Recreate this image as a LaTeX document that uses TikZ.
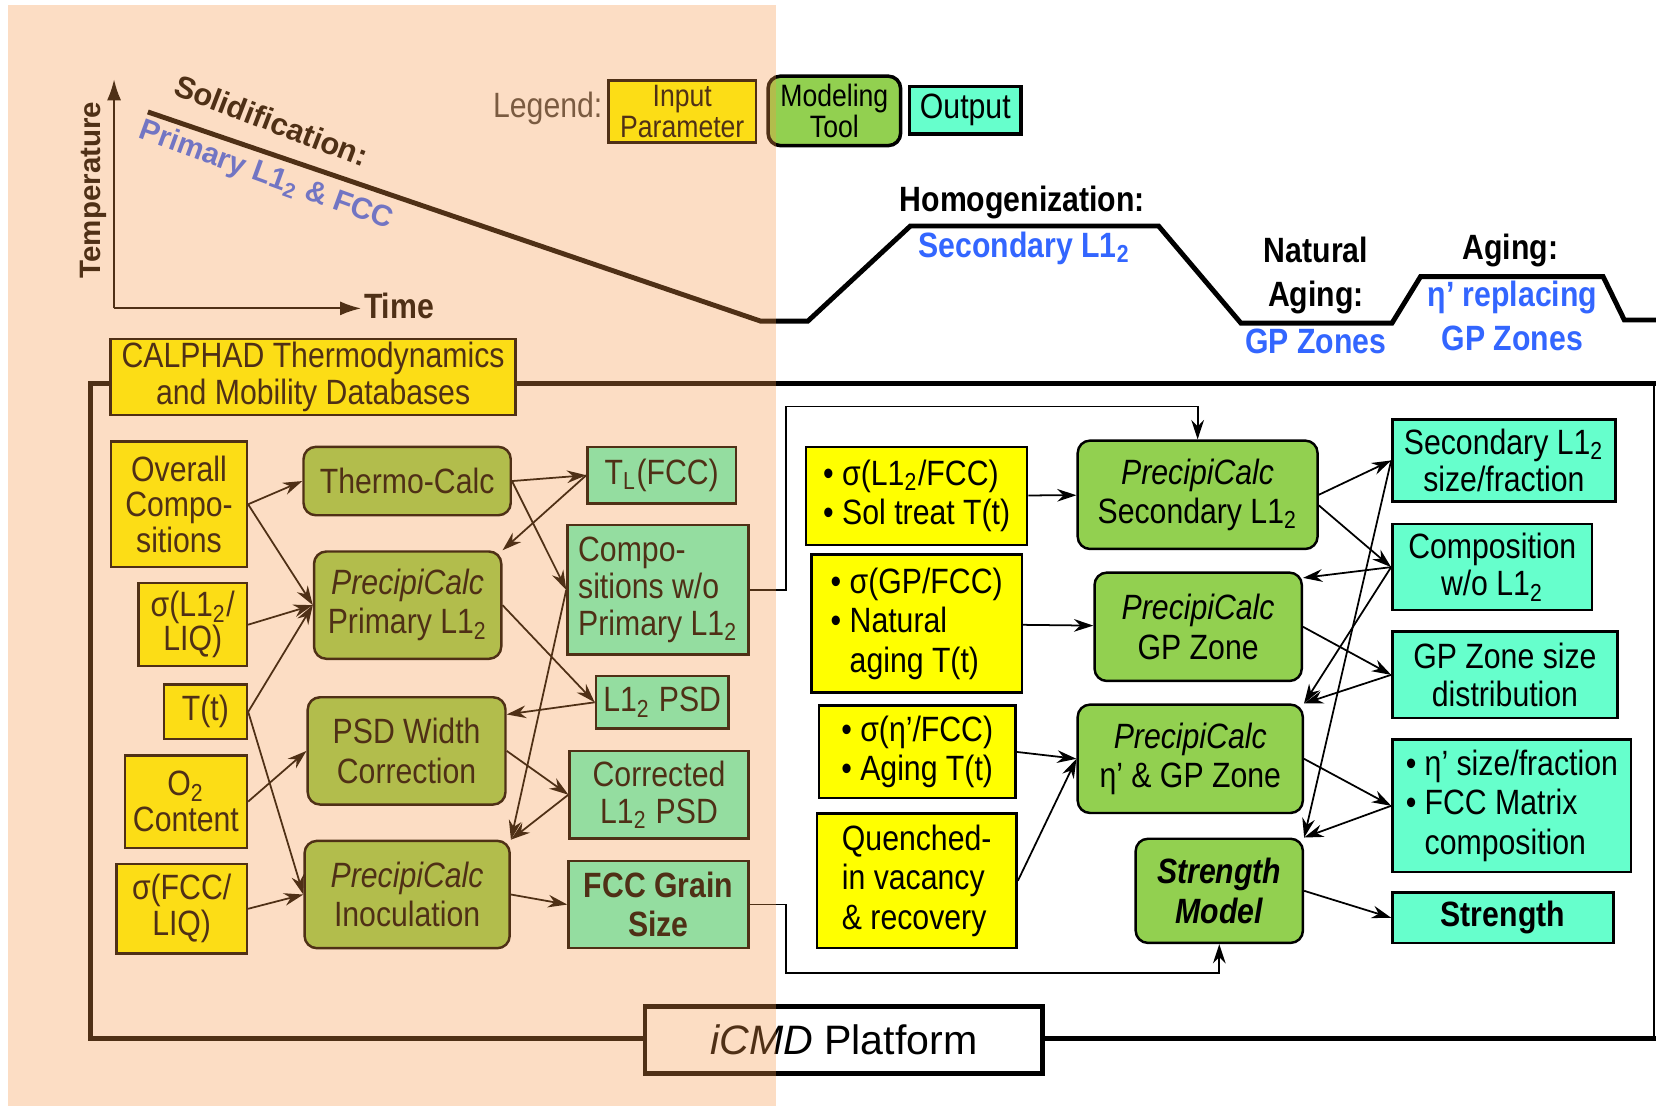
\documentclass[tikz,border=0pt]{standalone}
\usepackage{fontspec}
\setmainfont{Liberation Sans}[FakeStretch=0.86]
\newfontfamily\widefont{Liberation Sans}
\usetikzlibrary{arrows.meta}
\definecolor{inyellow}{HTML}{FFFF00}
\definecolor{toolgreen}{HTML}{92D050}
\definecolor{outcyan}{HTML}{66FFCC}
\definecolor{stageblue}{HTML}{3366FF}
\definecolor{tintorange}{HTML}{F79646}
\newcommand{\Lot}{L1\textsubscript{2}}

\begin{document}
\begin{tikzpicture}[x=0.1056mm, y=-0.1056mm,
	every node/.style={font=\fontsize{10}{11.2}\selectfont, inner sep=0pt},
	sz/.style 2 args={minimum width=#1*0.2993pt, minimum height=#2*0.2993pt},
	inbox/.style={draw=black, line width=0.7pt, fill=inyellow, align=center},
	toolbox/.style={draw=black, line width=0.7pt, fill=toolgreen, rounded corners=3.5pt, align=center},
	outbox/.style={draw=black, line width=0.7pt, fill=outcyan, align=center},
	link/.style={draw=black, line width=0.5pt, -{Stealth[length=5.5pt,width=3.6pt,inset=1.8pt]}},
	heading/.style={font=\fontsize{10}{12.6}\selectfont\bfseries},
	stage/.style={heading, text=stageblue},
	profile/.style={line width=1.4pt, line join=miter},
	frame/.style={line width=1.4pt}]
	\useasboundingbox (0,0) rectangle (1568,1047);

	% cooling curve
	\draw[line width=0.6pt, -{Latex[length=6pt,width=4pt]}] (108,292) -- (108,75);
	\draw[line width=0.6pt, -{Latex[length=6pt,width=4pt]}] (108,292) -- (342,292);
	\node[heading, anchor=west] (time) at (344,290) {Time};
	\node[rotate=90, font=\widefont\fontsize{8.4}{9}\selectfont\bfseries] (temp) at (88,180) {Temperature};
	\node[rotate=-21, font=\widefont\fontsize{8.8}{10}\selectfont\bfseries] (solid) at (257,114) {Solidification:};
	\node[rotate=-20, font=\widefont\fontsize{8.5}{10}\selectfont\bfseries, text=stageblue] (prim) at (252,167) {Primary \Lot{} \& FCC};
	\draw[profile] (140,106) -- (720,304) -- (765,304) -- (862,214) -- (1097,214) -- (1175,306)
		-- (1318,306) -- (1345,262) -- (1518,262) -- (1538,303) -- (1568,303);

	% legend
	\node[anchor=east, text=black!75] (leg) at (571,103) {Legend:};
	\node[inbox, sz={140}{59}, font=\fontsize{8.8}{8.8}\selectfont] (lin) at (646,105.5) {Input\\Parameter};
	\node[toolbox, sz={126}{66}, line width=1pt, font=\fontsize{8.8}{8.8}\selectfont] (ltool) at (790,105) {Modeling\\Tool};
	\node[outbox, sz={106}{45}, line width=1pt] (lout) at (914,104.5) {Output};

	% stages
	\node[heading] (homo) at (968,192) {Homogenization:};
	\node[stage] (homo2) at (970,235) {Secondary \Lot};
	\node[heading, align=center] (nat) at (1246,261) {Natural\\Aging:};
	\node[stage] (nat2) at (1246,323) {GP Zones};
	\node[heading] (age) at (1430,237) {Aging:};
	\node[stage, align=center] (age2) at (1432,299) {η’ replacing\\GP Zones};

	% platform frame
	\draw[frame] (1568,363) -- (86,363) -- (86,983) -- (1568,983);
	\draw[line width=0.5pt] (1566,363) -- (1566,983);
	\node[inbox, sz={385}{72}, font=\fontsize{10}{10.4}\selectfont] (calp) at (296.5,357) {CALPHAD Thermodynamics\\and Mobility Databases};
	\node[draw=black, fill=white, line width=1.4pt, sz={378}{64}, font=\widefont\fontsize{11.7}{12}\selectfont] (icmd) at (799,985) {\textit{iCMD} Platform};

	% solidification block
	\node[inbox, sz={129}{119}, font=\fontsize{10}{10.2}\selectfont] (ovr) at (169.5,477.5) {Overall\\Compo-\\sitions};
	\node[inbox, sz={103}{79}, font=\fontsize{10}{9.6}\selectfont] (sigl) at (182.5,591.5) {σ(\Lot/\\LIQ)};
	\node[inbox, sz={79}{52}] (tt) at (194.5,674) {T(t)};
	\node[inbox, sz={116}{88}, font=\fontsize{10}{10.2}\selectfont] (oxy) at (176,759) {O\textsubscript{2}\\Content};
	\node[inbox, sz={124}{85}, font=\fontsize{10}{10.2}\selectfont] (sigf) at (172,860.5) {σ(FCC/\\LIQ)};
	\node[toolbox, sz={197}{65}] (tc) at (385.5,455.5) {Thermo-Calc};
	\node[toolbox, sz={178}{102}] (ppri) at (386,573) {\textit{PrecipiCalc}\\Primary \Lot};
	\node[toolbox, sz={188}{102}] (psdw) at (385,711) {PSD Width\\Correction};
	\node[toolbox, sz={195}{102}] (pino) at (385.5,847) {\textit{PrecipiCalc}\\Inoculation};
	\node[outbox, sz={141}{54}] (tl) at (626.5,450) {T\textsubscript{L}(FCC)};
	\node[outbox, sz={172}{123}, align=left, font=\fontsize{10}{10.6}\selectfont] (cwo) at (623,558.5) {Compo-\\sitions w/o\\Primary \Lot};
	\node[outbox, sz={126}{50}] (lpsd) at (627,665) {\Lot{} PSD};
	\node[outbox, sz={170}{83}, font=\fontsize{10}{10.6}\selectfont] (cor) at (624,752.5) {Corrected\\\Lot{} PSD};
	\node[outbox, sz={171}{83}, font=\fontsize{10}{11.2}\selectfont\bfseries] (fcc) at (623.5,856.5) {FCC Grain\\Size};

	\draw[link] (ovr.east) -- (tc.west);
	\draw[link] (ovr.east) -- (ppri.west);
	\draw[link] (sigl.east) -- (ppri.west);
	\draw[link] (tt.east) -- (ppri.west);
	\draw[link] (tt.east) -- (pino.west);
	\draw[link] (oxy.east) -- (psdw.west);
	\draw[link] (sigf.east) -- (pino.west);
	\draw[link] (tc.east) -- (tl.west);
	\draw[link] (tc.east) -- (cwo.west);
	\draw[link] (tl.west) -- (ppri.north east);
	\draw[link] (ppri.east) -- (lpsd.west);
	\draw[link] (lpsd.west) -- (psdw.20);
	\draw[link] (psdw.east) -- (cor.west);
	\draw[link] (cwo.west) -- (pino.north east);
	\draw[link] (cor.west) -- (pino.north east);
	\draw[link] (pino.east) -- (fcc.west);

	% heat treatment block
	\node[inbox, sz={210}{93}, align=left] (y1) at (868,469.5) {• σ(\Lot/FCC)\\• Sol treat T(t)};
	\node[inbox, sz={200}{131}, align=left] (y2) at (868,590.5) {• σ(GP/FCC)\\• Natural\\\hphantom{• }aging T(t)};
	\node[inbox, sz={187}{88}, align=left] (y3) at (868.5,712) {• σ(η’/FCC)\\• Aging T(t)};
	\node[inbox, sz={190}{128}, align=left] (y4) at (868,834) {Quenched-\\in vacancy\\\& recovery};
	\node[toolbox, sz={228}{103}] (psec) at (1134,468.5) {\textit{PrecipiCalc}\\Secondary \Lot};
	\node[toolbox, sz={197}{103}] (pgp) at (1134.5,593.5) {\textit{PrecipiCalc}\\GP Zone};
	\node[toolbox, sz={214}{103}] (peta) at (1127,718.5) {\textit{PrecipiCalc}\\η’ \& GP Zone};
	\node[toolbox, sz={159}{99}, font=\fontsize{10}{11.2}\selectfont\bfseries\itshape] (smod) at (1154.5,843.5) {Strength\\Model};
	\node[outbox, sz={212}{78}, font=\fontsize{10}{10.6}\selectfont] (osec) at (1424,436) {Secondary \Lot\\size/fraction};
	\node[outbox, sz={190}{82}, font=\fontsize{10}{10.6}\selectfont] (ocmp) at (1413,537) {Composition\\w/o \Lot};
	\node[outbox, sz={214}{82}, font=\fontsize{10}{10.6}\selectfont] (ogp) at (1425,639) {GP Zone size\\distribution};
	\node[outbox, sz={227}{126}, align=left] (oeta) at (1431.5,763) {• η’ size/fraction\\• FCC Matrix\\\hphantom{• }composition};
	\node[outbox, sz={210}{48}, font=\fontsize{10}{11.2}\selectfont\bfseries] (ostr) at (1423,869) {Strength};

	\coordinate (fbtop) at (744,385);
	\coordinate (fbbot) at (744,921);
	\draw[link] (cwo.east) -| (fbtop) -| (psec.north);
	\draw[link] (fcc.east) -| (fbbot) -| (smod.south);

	\draw[link] (y1) -- (psec);
	\draw[link] (y2) -- (pgp);
	\draw[link] (y3.east) -- (peta.west);
	\draw[link] (y4.east) -- (peta.west);
	\draw[link] (psec.east) -- (osec.west);
	\draw[link] (psec.-5) -- (ocmp.west);
	\draw[link] (ocmp.west) -- (pgp.25);
	\draw[link] (ocmp.west) -- (peta.north east);
	\draw[link] (osec.west) -- (smod.north east);
	\draw[link] (pgp.east) -- (ogp.west);
	\draw[link] (ogp.west) -- (peta.north east);
	\draw[link] (peta.east) -- (oeta.west);
	\draw[link] (oeta.west) -- (smod.north east);
	\draw[link] (smod.east) -- (ostr.west);

	% tinted solidification side
	\fill[tintorange, opacity=0.32] (8,5) rectangle (735,1047);
\end{tikzpicture}
\end{document}
